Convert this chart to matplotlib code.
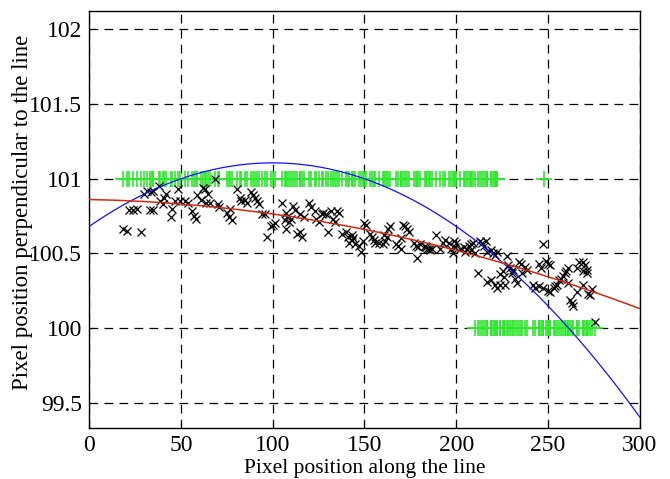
import numpy as np
import matplotlib.pyplot as plt

# measured points (pixel along line, pixel perpendicular)
px = [18.5, 20.5, 28, 22, 24, 26, 33, 35, 30, 31.5, 33.5, 35, 38, 38.5, 40, 41, 42, 45, 44.5,
      48.5, 47, 49.5, 52, 54, 56, 57, 58, 59, 62, 63, 65, 61, 63.5, 66, 68.6, 70, 71,
      80.6, 82, 83, 85, 86, 88, 89.5, 90.5, 91.5, 92.5, 75, 76, 78, 77, 94, 96, 99, 100, 101,
      97, 105, 107, 108, 106.5, 107, 111, 112, 109, 110, 115, 117, 113, 115, 116, 120, 121,
      123, 123.5, 125, 127,
      127.5, 129, 132, 133, 135, 136, 134, 130, 138, 140, 141, 143, 144, 141.5, 143, 145, 147,
      148, 149, 150, 151, 153, 154, 155, 156, 158, 160, 161, 160.5, 162, 163, 164, 167, 168,
      170, 171, 172, 173, 174, 170, 177, 178, 179, 180, 178.5, 183, 185,
      189, 184, 185.5, 183.5, 187, 191, 193, 194, 196, 197, 198, 199, 200, 199.5, 202, 204,
      206, 207, 208, 209, 205, 208, 210, 213, 214, 215, 216, 217, 219, 220, 221, 222, 227.5,
      212, 217, 219, 221, 222, 224, 225.5, 226, 228, 229.5, 230.5, 231, 232, 233, 224, 226.5,
      247, 234, 235, 237.5, 238.5, 236, 242, 243, 245, 247, 245, 246, 249, 250, 251, 250, 251,
      253, 254, 255, 256, 257, 258, 259, 260, 261, 261, 262, 263, 263.5, 265.6, 266, 267, 269,
      270, 271, 271, 269, 269, 272, 273, 274, 275.5]
py = [100.66, 100.65, 100.64, 100.79, 100.79, 100.80, 100.79, 100.79, 100.90, 100.92, 100.91,
      100.92, 100.95, 100.85, 100.83, 100.87, 100.90, 100.80, 100.74,
      100.93, 100.85, 100.85, 100.85, 100.84, 100.78, 100.75, 100.73, 100.89, 100.94, 100.93,
      100.90, 100.86, 100.84, 100.84, 101.00, 100.83, 100.81,
      100.93, 100.87, 100.85, 100.86, 100.84, 100.91, 100.89, 100.87, 100.85, 100.83, 100.77,
      100.74, 100.72, 100.80, 100.76, 100.76, 100.68, 100.69, 100.70,
      100.61, 100.84, 100.77, 100.74, 100.72, 100.66, 100.82, 100.79, 100.71, 100.73, 100.76,
      100.74, 100.63, 100.64, 100.61, 100.84, 100.81,
      100.78, 100.73, 100.71, 100.76,
      100.77, 100.76, 100.78, 100.73, 100.78, 100.77, 100.71, 100.64, 100.63, 100.64, 100.61,
      100.62, 100.60, 100.57, 100.59, 100.56, 100.55,
      100.51, 100.58, 100.70, 100.69, 100.63, 100.61, 100.59, 100.57, 100.57, 100.56, 100.58,
      100.62, 100.61, 100.66, 100.68, 100.56, 100.55,
      100.53, 100.69, 100.68, 100.66, 100.64, 100.60, 100.57, 100.55, 100.54, 100.56, 100.47,
      100.55, 100.53,
      100.62, 100.53, 100.52, 100.54, 100.53, 100.53, 100.57, 100.59, 100.57, 100.53, 100.50,
      100.58, 100.57, 100.54, 100.53, 100.54,
      100.53, 100.55, 100.56, 100.57, 100.51, 100.52, 100.50, 100.58, 100.57, 100.55, 100.58,
      100.51, 100.52, 100.50, 100.49, 100.51, 100.48,
      100.37, 100.31, 100.32, 100.29, 100.27, 100.36, 100.38, 100.34, 100.42, 100.40, 100.37,
      100.39, 100.33, 100.30, 100.29, 100.29,
      100.56, 100.44, 100.43, 100.41, 100.39, 100.37, 100.29, 100.27, 100.28, 100.27, 100.43,
      100.40, 100.45, 100.43, 100.42, 100.25, 100.24,
      100.27, 100.28, 100.29, 100.32, 100.33, 100.35, 100.37, 100.38, 100.40, 100.30, 100.19,
      100.17, 100.15, 100.24, 100.40, 100.44, 100.44,
      100.42, 100.39, 100.37, 100.38, 100.29, 100.23, 100.22, 100.26, 100.04]

# flags shown as green markers (101 = kept, 100 = rejected)
top_limit = 222
bot_limit = 210
extra_top = [248]

# fitted polynomials (highest power first)
red_fit = [-7.33e-6, -2.33e-4, 100.86]
blue_fit = [-4.25e-5, 8.5e-3, 100.68]

plt.rcParams['font.family'] = ['Liberation Serif', 'DejaVu Serif']

fig = plt.figure(figsize=(6.7, 4.79), dpi=100)
ax = fig.add_axes([0.133, 0.1065, 0.822, 0.8705])

top_x = [x for x in px if x <= top_limit] + extra_top
bot_x = [x for x in px if x >= bot_limit]
ax.plot(top_x, [101] * len(top_x), '+', color='#2ee82e', ms=11, mew=1.2, zorder=3)
ax.plot(bot_x, [100] * len(bot_x), '+', color='#2ee82e', ms=11, mew=1.2, zorder=3)

ax.plot(px, py, 'x', color='black', ms=5.5, mew=0.9, zorder=4)

xx = np.linspace(0, 300, 400)
ax.plot(xx, np.polyval(blue_fit, xx), color='#1010ff', lw=0.9, zorder=5)
ax.plot(xx, np.polyval(red_fit, xx), color='#d02a10', lw=1.1, zorder=5)

ax.set_xlim(0, 300)
ax.set_ylim(99.333, 102.12)
ax.set_xticks([0, 50, 100, 150, 200, 250, 300])
ax.set_yticks([99.5, 100, 100.5, 101, 101.5, 102])
ax.set_yticklabels(['99.5', '100', '100.5', '101', '101.5', '102'])
ax.grid(True, color='black', linestyle=(0, (7, 5)), lw=0.9)
ax.tick_params(direction='in', length=4, labelsize=17, pad=5)
for s in ax.spines.values():
    s.set_linewidth(1.0)

ax.set_xlabel('Pixel position along the line', fontsize=15.5, labelpad=2)
ax.set_ylabel('Pixel position perpendicular to the line', fontsize=16.5)
ax.yaxis.set_label_coords(-0.102, 0.516)

fig.savefig('out.png', dpi=100)
